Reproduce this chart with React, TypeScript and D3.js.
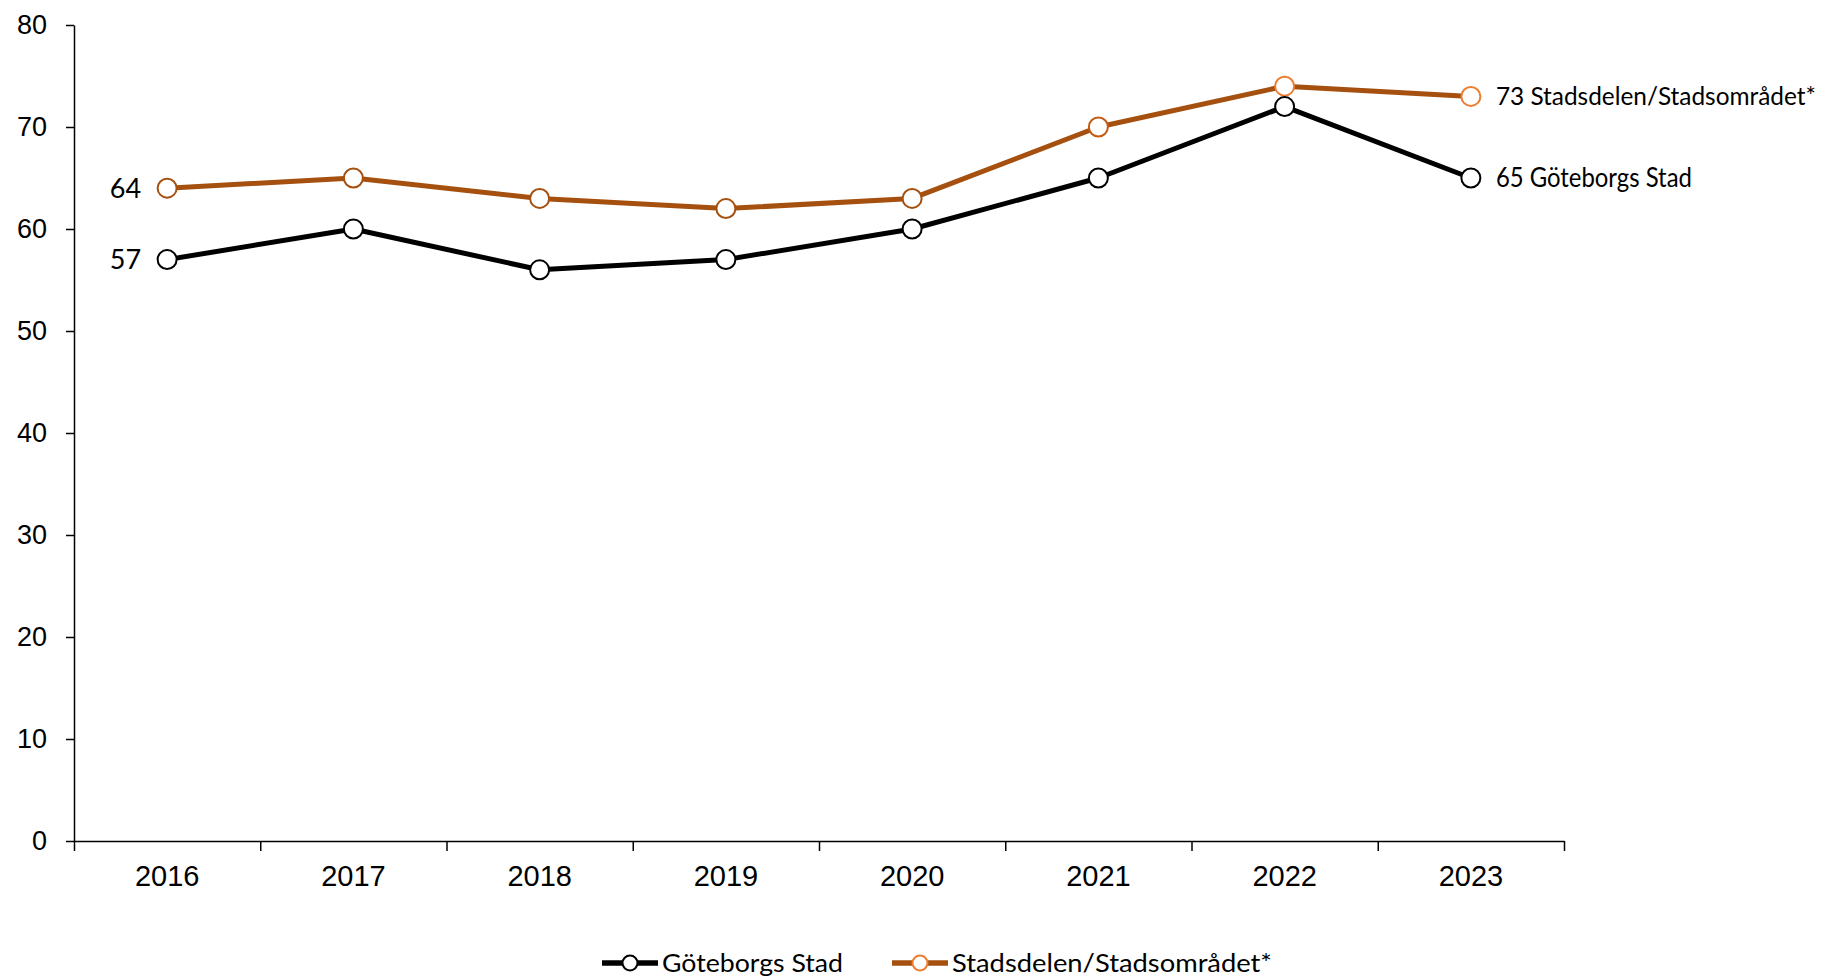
import React from "react";
import { select, scaleBand, scaleLinear, axisLeft, axisBottom, line } from "d3";

const years = ["2016", "2017", "2018", "2019", "2020", "2021", "2022", "2023"];
const goteborgsStad = [57, 60, 56, 57, 60, 65, 72, 65];
const stadsdelen = [64, 65, 63, 62, 63, 70, 74, 73];
const yTicks = [0, 10, 20, 30, 40, 50, 60, 70, 80];
const seriesNames = ["Göteborgs Stad", "Stadsdelen/Stadsområdet*"];

const BROWN = "#A5500F";
const ORANGE = "#ED7D31";
// marker outline on the orange series gets lighter towards the end
const orangeMarkerStroke = [BROWN, BROWN, BROWN, BROWN, BROWN, "#C55A11", ORANGE, ORANGE];

const W = 1829;
const H = 978;
const margin = { top: 25, right: 265, bottom: 137, left: 74 };
const labelFont = "Lato, 'Open Sans', sans-serif";
const axisFont = "'Liberation Sans', Arial, sans-serif";

export default function App() {
  const svgRef = React.useRef<SVGSVGElement>(null);

  React.useEffect(() => {
    const svg = select(svgRef.current);
    svg.selectAll("*").remove();

    const x0 = margin.left;
    const x1 = W - margin.right;
    const yBottom = H - margin.bottom;

    const x = scaleBand<string>().domain(years).range([x0, x1]);
    const xEdge = scaleLinear().domain([0, years.length]).range([x0, x1]);
    const y = scaleLinear().domain([0, 80]).range([yBottom, margin.top]);
    const cx = (i: number) => x(years[i])! + x.bandwidth() / 2;

    // y axis
    const gy = svg
      .append("g")
      .attr("transform", `translate(${x0},0)`)
      .call(axisLeft(y).tickValues(yTicks).tickSize(8).tickSizeOuter(0).tickPadding(19));
    gy.selectAll("text").attr("font-family", axisFont).attr("font-size", 27).attr("fill", "#000");
    gy.selectAll("line,path").attr("stroke", "#000").attr("stroke-width", 1.5);

    // x axis: ticks on category edges, labels in the middle
    const gxTicks = svg
      .append("g")
      .attr("transform", `translate(0,${yBottom})`)
      .call(
        axisBottom(xEdge)
          .tickValues([0, 1, 2, 3, 4, 5, 6, 7, 8])
          .tickSize(10)
          .tickSizeOuter(0)
          .tickFormat(() => "")
      );
    gxTicks.selectAll("line,path").attr("stroke", "#000").attr("stroke-width", 1.5);

    const gxLabels = svg
      .append("g")
      .attr("transform", `translate(0,${yBottom})`)
      .call(axisBottom(x).tickSize(0).tickPadding(24));
    gxLabels.select(".domain").remove();
    gxLabels.selectAll("text").attr("font-family", axisFont).attr("font-size", 29).attr("fill", "#000");

    const path = line<number>()
      .x((_, i) => cx(i))
      .y((d) => y(d));

    const series = [
      { values: stadsdelen, color: BROWN, markers: orangeMarkerStroke },
      { values: goteborgsStad, color: "#000", markers: years.map(() => "#000") },
    ];

    series.forEach((s) => {
      svg
        .append("path")
        .attr("d", path(s.values))
        .attr("fill", "none")
        .attr("stroke", s.color)
        .attr("stroke-width", 5)
        .attr("stroke-linejoin", "round");
      svg
        .append("g")
        .selectAll("circle")
        .data(s.values)
        .join("circle")
        .attr("cx", (_, i) => cx(i))
        .attr("cy", (d) => y(d))
        .attr("r", 9.5)
        .attr("fill", "#fff")
        .attr("stroke", (_, i) => s.markers[i])
        .attr("stroke-width", 2);
    });

    // data labels
    const first = 0;
    const last = years.length - 1;
    const labels = [
      { text: `${stadsdelen[first]}`, x: cx(first) - 26, y: y(stadsdelen[first]), anchor: "end", size: 27 },
      { text: `${goteborgsStad[first]}`, x: cx(first) - 26, y: y(goteborgsStad[first]), anchor: "end", size: 27 },
      { text: `${stadsdelen[last]} ${seriesNames[1]}`, x: cx(last) + 25, y: y(stadsdelen[last]), anchor: "start", size: 25, len: 320 },
      { text: `${goteborgsStad[last]} ${seriesNames[0]}`, x: cx(last) + 25, y: y(goteborgsStad[last]), anchor: "start", size: 26, len: 196 },
    ];
    labels.forEach((l) => {
      const t = svg
        .append("text")
        .attr("x", l.x)
        .attr("y", l.y)
        .attr("dy", "0.36em")
        .attr("text-anchor", l.anchor)
        .attr("font-family", labelFont)
        .attr("font-size", l.size)
        .attr("fill", "#000")
        .text(l.text);
      if (l.len) t.attr("textLength", l.len).attr("lengthAdjust", "spacingAndGlyphs");
    });

    // legend
    const legendY = 963;
    const legend = [
      { name: seriesNames[0], x: 602, line: "#000", marker: "#000", len: 181 },
      { name: seriesNames[1], x: 892, line: BROWN, marker: ORANGE, len: 320 },
    ];
    legend.forEach((l) => {
      const g = svg.append("g").attr("transform", `translate(${l.x},${legendY})`);
      g.append("line").attr("x1", 0).attr("x2", 56).attr("stroke", l.line).attr("stroke-width", 5.5);
      g.append("circle").attr("cx", 28).attr("r", 7.5).attr("fill", "#fff").attr("stroke", l.marker).attr("stroke-width", 2);
      g.append("text")
        .attr("x", 60)
        .attr("dy", "0.36em")
        .attr("font-family", labelFont)
        .attr("font-size", 25)
        .attr("fill", "#000")
        .attr("textLength", l.len)
        .attr("lengthAdjust", "spacingAndGlyphs")
        .text(l.name);
    });

    return () => {
      svg.selectAll("*").remove();
    };
  }, []);

  return (
    <svg
      ref={svgRef}
      width={W}
      height={H}
      style={{ position: "absolute", left: 0, top: 0, background: "#fff" }}
    />
  );
}
